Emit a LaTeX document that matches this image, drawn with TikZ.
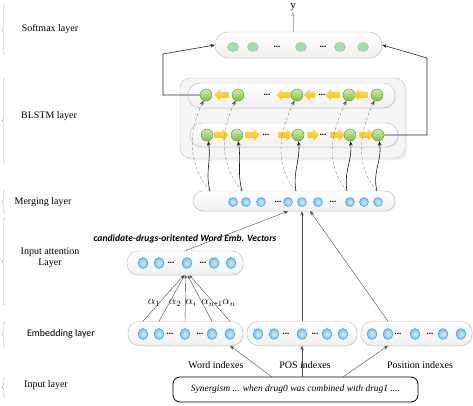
\documentclass[tikz,border=0pt]{standalone}
\usepackage{fontspec}
\setmainfont{Liberation Serif}
\newfontfamily\sansfnt{Carlito}
\usetikzlibrary{arrows.meta,positioning,shapes.geometric,shapes.arrows,decorations.pathreplacing,shadows}

\definecolor{mint}{HTML}{9FE2B2}
\definecolor{sky}{HTML}{6CC4F0}
\definecolor{skyline}{HTML}{3C97CF}
\definecolor{leaf}{HTML}{7CBF45}
\definecolor{leaftop}{HTML}{D6EEA0}
\definecolor{amber}{HTML}{F5B935}

\tikzset{
  layerbox/.style={draw=gray!55, top color=white, bottom color=gray!12, rounded corners=11pt, inner sep=0pt,
    drop shadow={opacity=0.12, shadow xshift=1pt, shadow yshift=-1pt}},
  smcirc/.style={ellipse, draw=gray!70, fill=mint, minimum width=11pt, minimum height=9pt, inner sep=0pt},
  lstmcirc/.style={circle, draw=green!35!black!70, top color=leaftop, bottom color=leaf, minimum size=12pt, inner sep=0pt},
  embcirc/.style={ellipse, draw=skyline, inner color=sky!30, outer color=sky, minimum width=10pt, minimum height=11pt, inner sep=0pt},
  mgcirc/.style={embcirc, minimum width=9pt, minimum height=9pt},
  fwd/.style={single arrow, draw=orange!50, top color=yellow!70!amber, bottom color=amber, minimum height=14pt,
    single arrow head extend=2.5pt, inner xsep=0pt, inner ysep=2.6pt},
  bwd/.style={fwd, shape border rotate=180},
  dotsym/.style={font=\bfseries\small, inner sep=0pt},
  brc/.style={draw=gray!60, decorate, decoration={brace, amplitude=3pt}},
  lbl/.style={font=\fontsize{10}{11}\selectfont, align=center},
  albl/.style={font=\fontsize{12}{13}\selectfont, inner sep=0pt},
}

\begin{document}
\begin{tikzpicture}[x=1pt, y=1pt, >={Stealth[length=4.5pt,width=3.5pt]}, on grid]
\useasboundingbox (0,0) rectangle (473,-406);

% layer boxes
\node[layerbox, minimum width=167pt, minimum height=26pt, rounded corners=13pt] (soft) at (298.5,-45) {};
\node[draw=gray!50, fill=gray!8, rounded corners=10pt, minimum width=225pt, minimum height=80pt,
  drop shadow={opacity=0.12}] (blstm) at (292.5,-118) {};
\node[layerbox, minimum width=207pt, minimum height=25pt, rounded corners=12pt] (bwdrow) at (291.5,-95.5) {};
\node[layerbox, minimum width=208pt, minimum height=24pt, rounded corners=12pt] (fwdrow) at (294,-135) {};
\node[layerbox, minimum width=202pt, minimum height=20pt, rounded corners=10pt] (mg) at (294,-201) {};
\node[layerbox, minimum width=116pt, minimum height=24pt] (att) at (185,-263) {};
\node[layerbox, minimum width=115pt, minimum height=24pt] (emb1) at (185.5,-333.5) {};
\node[layerbox, minimum width=110pt, minimum height=24pt] (emb2) at (302,-333.5) {};
\node[layerbox, minimum width=111pt, minimum height=24pt] (emb3) at (416.5,-333.5) {};
\node[draw, thick, rounded corners=7pt, minimum width=245pt, minimum height=25pt, font=\itshape\fontsize{9.5}{11}\selectfont]
  (inp) at (295.5,-389.5) {Synergism ... when drug0 was combined with drug1 ....};

% softmax units
\node[smcirc] (s1) at (233,-47) {};
\node[smcirc] (s2) [right=20pt of s1] {};
\node[dotsym] (sd1) [right=24pt of s2] {...};
\node[smcirc] (s3) [right=24pt of sd1] {};
\node[dotsym] (sd2) [right=22pt of s3] {...};
\node[smcirc] (s4) [right=17pt of sd2] {};
\node[smcirc] (s5) [right=23pt of s4] {};
\node[font=\fontsize{11}{12}\selectfont, inner sep=1pt] (yout) at (293,-7) {y};

% backward lstm
\node[lstmcirc] (b1) at (206,-95) {};
\node[bwd] (ba1) [right=17pt of b1] {};
\node[lstmcirc] (b2) [right=15pt of ba1] {};
\node[dotsym] (bd1) [right=29pt of b2] {...};
\node[bwd] (ba2) [right=18pt of bd1] {};
\node[lstmcirc] (b3) [right=12pt of ba2] {};
\node[bwd, minimum height=11pt] (ba3) [right=14pt of b3] {};
\node[dotsym] (bd2) [right=11pt of ba3] {...};
\node[bwd] (ba4) [right=12pt of bd2] {};
\node[lstmcirc] (b4) [right=15pt of ba4] {};
\node[bwd] (ba5) [right=13pt of b4] {};
\node[lstmcirc] (b5) [right=15pt of ba5] {};

% forward lstm
\node[lstmcirc] (f1) at (207,-135) {};
\node[fwd] (fa1) [right=13pt of f1] {};
\node[lstmcirc] (f2) [right=17pt of fa1] {};
\node[fwd] (fa2) [right=14pt of f2] {};
\node[dotsym] (fd1) [right=15pt of fa2] {...};
\node[fwd] (fa3) [right=18pt of fd1] {};
\node[lstmcirc] (f3) [right=14pt of fa3] {};
\node[fwd, minimum height=11pt] (fa4) [right=14pt of f3] {};
\node[dotsym] (fd2) [right=11pt of fa4] {...};
\node[fwd] (fa5) [right=13pt of fd2] {};
\node[lstmcirc] (f4) [right=14pt of fa5] {};
\node[fwd] (fa6) [right=15pt of f4] {};
\node[lstmcirc] (f5) [right=13pt of fa6] {};

% merging units
\node[mgcirc] (mc1) at (233,-202) {};
\node[mgcirc] (mc2) [right=13pt of mc1] {};
\node[mgcirc] (mc3) [right=15pt of mc2] {};
\node[dotsym] (md1) [right=17pt of mc3] {...};
\node[mgcirc] (mc4) [right=10pt of md1] {};
\node[mgcirc] (mc5) [right=14pt of mc4] {};
\node[mgcirc] (mc6) [right=16pt of mc5] {};
\node[dotsym] (md2) [right=15pt of mc6] {...};
\node[mgcirc] (mc7) [right=17pt of md2] {};
\node[mgcirc] (mc8) [right=14pt of mc7] {};
\node[mgcirc] (mc9) [right=14pt of mc8] {};

% attention units
\node[embcirc] (ac1) at (143,-263) {};
\node[embcirc] (ac2) [right=16pt of ac1] {};
\node[dotsym] (ad1) [right=12pt of ac2] {...};
\node[embcirc] (ac3) [right=16pt of ad1] {};
\node[dotsym] (ad2) [right=16pt of ac3] {...};
\node[embcirc] (ac4) [right=11pt of ad2] {};
\node[embcirc] (ac5) [right=17pt of ac4] {};

% word embedding units
\node[embcirc] (ec1) at (143,-334) {};
\node[embcirc] (ec2) [right=16pt of ec1] {};
\node[dotsym] (ed1) [right=11pt of ec2] {...};
\node[embcirc] (ec3) [right=15pt of ed1] {};
\node[dotsym] (ed2) [right=15pt of ec3] {...};
\node[embcirc] (ec4) [right=12pt of ed2] {};
\node[embcirc] (ec5) [right=18pt of ec4] {};

% pos embedding units
\node[embcirc] (pc1) at (258,-334) {};
\node[embcirc] (pc2) [right=16pt of pc1] {};
\node[dotsym] (pd1) [right=12pt of pc2] {...};
\node[embcirc] (pc3) [right=16pt of pd1] {};
\node[dotsym] (pd2) [right=13pt of pc3] {...};
\node[embcirc] (pc4) [right=12pt of pd2] {};
\node[embcirc] (pc5) [right=16pt of pc4] {};

% position embedding units
\node[embcirc] (qc1) at (372,-334) {};
\node[embcirc] (qc2) [right=16pt of qc1] {};
\node[dotsym] (qd1) [right=10pt of qc2] {...};
\node[embcirc] (qc3) [right=17pt of qd1] {};
\node[dotsym] (qd2) [right=15pt of qc3] {...};
\node[embcirc] (qc4) [right=13pt of qd2] {};
\node[embcirc] (qc5) [right=18pt of qc4] {};

% texts
\node[lbl] (lsoft) at (50,-29) {Softmax layer};
\node[lbl] (lblstm) at (49,-116) {BLSTM layer};
\node[lbl] (lmerge) at (43,-202) {Merging layer};
\node[lbl] (latt) at (50,-258) {Input attention\\Layer};
\node[lbl, font=\sansfnt\fontsize{10}{11}\selectfont] (lemb) at (61,-334) {Embedding layer};
\node[lbl] (linp) at (46,-385) {Input layer};
\node[font=\sansfnt\bfseries\itshape\fontsize{9.6}{11}\selectfont] (cand) at (185,-239) {candidate-drugs-oritented Word Emb. Vectors};
\node[lbl] (lword) at (216,-365) {Word indexes};
\node[lbl] (lpos) at (305,-365) {POS indexes};
\node[lbl] (lposi) at (420,-365) {Position indexes};
\node[albl] (al1) at (154,-303) {$\alpha_1$};
\node[albl] (al2) at (175,-303) {$\alpha_2$};
\node[albl] (al3) at (191,-303) {$\alpha_i$};
\node[albl] (al4) at (212,-303) {$\alpha_{n\mbox{-}1}$};
\node[albl] (al5) at (229,-303) {$\alpha_n$};

% braces
\draw[brc] (5,-55) -- (5,-5);
\draw[brc] (5,-163) -- (5,-78);
\draw[brc] (5,-213) -- (5,-190);
\draw[brc] (5,-305) -- (5,-218);
\draw[brc] (5,-347) -- (5,-322);
\draw[brc] (5,-397) -- (5,-377);

% free ends
\coordinate (kl) at (163,-54);
\coordinate (kr) at (427,-58);
\coordinate (mt1) at (210,-191);
\coordinate (mt2) at (242,-191);
\coordinate (mt3) at (296,-191);
\coordinate (mt4) at (347,-191);
\coordinate (mt5) at (377,-191);
\coordinate (mb3) at (310,-211);
\coordinate (w0) at (272,-377);
\coordinate (q0) at (343,-377);

% to softmax
\draw[->, gray!30!black, semithick] (b1.west) -| (kl) -- (soft.west);
\draw[->, gray!30!black, semithick] (f5.east) -| (kr) -- (soft.east);
\draw[->, gray!60] (yout |- soft.north) -- (yout.south);

% merging to blstm
\path[->, gray!60!black, densely dashed, very thin]
  (mt1) edge[out=130, in=-115] (b1)
  (mt2) edge[out=130, in=-115] (b2)
  (mt3) edge[out=130, in=-115] (b3)
  (mt4) edge[out=130, in=-115] (b4)
  (mt5) edge[out=130, in=-115] (b5);
\path[->, gray!20!black, semithick]
  (mt1) edge[out=105, in=-80] (f1)
  (mt2) edge[out=105, in=-80] (f2)
  (mt3) edge[out=100, in=-85] (f3)
  (mt4) edge[out=100, in=-85] (f4)
  (mt5) edge[out=105, in=-80] (f5);

% attention
\path[-{Stealth[length=3.5pt,width=2.5pt]}, gray!60!black, thin]
  (ec1 |- emb1.north) edge (att.-96)
  (ec2 |- emb1.north) edge (att.-92)
  (ec3 |- emb1.north) edge (att.-86)
  (ec4 |- emb1.north) edge (att.-78)
  (ec5 |- emb1.north) edge (att.-70);

% to merging
\path[->, gray!60!black, thin]
  (att.north) edge (mc4 |- mg.south)
  (emb2.north) edge (mc5 |- mg.south)
  (qc2 |- emb3.north) edge (mb3);

% from input
\path[->, gray!60!black, thin]
  (w0) edge (ec5 |- emb1.south)
  (emb2.south |- inp.north) edge (emb2.south)
  (q0) edge (qc2 |- emb3.south);
\end{tikzpicture}
\end{document}
